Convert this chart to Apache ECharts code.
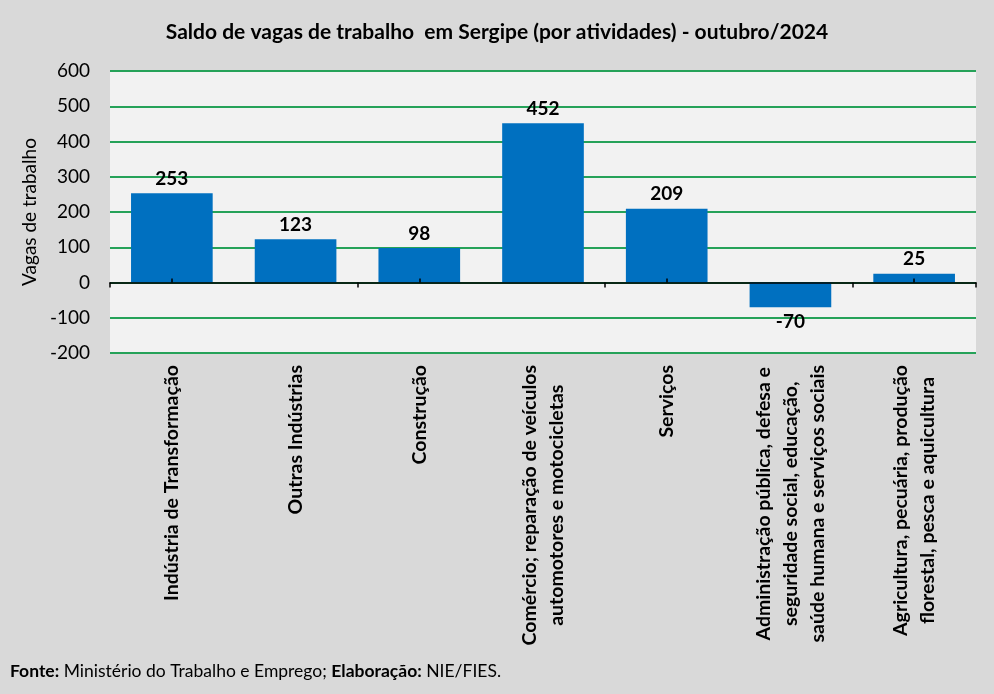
<!DOCTYPE html>
<html lang="pt-BR">
<head>
<meta charset="UTF-8">
<title>Saldo de vagas de trabalho em Sergipe</title>
<script src="https://cdn.jsdelivr.net/npm/echarts@6/dist/echarts.min.js"></script>
<style>
    * { margin: 0; padding: 0; box-sizing: border-box; }
    body { background: #d9d9d9; }
    #chart { width: 994px; height: 694px; }
</style>
</head>
<body>
<div id="chart"></div>
<script>
    // dados
    var categorias = [
        'Indústria de Transformação',
        'Outras Indústrias',
        'Construção',
        'Comércio; reparação de veículos\nautomotores e motocicletas',
        'Serviços',
        'Administração pública, defesa e\nseguridade social, educação,\nsaúde humana e serviços sociais',
        'Agricultura, pecuária, produção\nflorestal, pesca e aquicultura'
    ];
    var saldo = [253, 123, 98, 452, 209, -70, 25];
    var eixoY = { min: -200, max: 600, passo: 100 };

    var fonte = 'Lato, "Open Sans", sans-serif';

    var chart = echarts.init(document.getElementById('chart'));

    var option = {
        animation: false,
        backgroundColor: '#d9d9d9',
        textStyle: { fontFamily: fonte },
        title: {
            text: 'Saldo de vagas de trabalho  em Sergipe (por atividades) - outubro/2024',
            left: 'center',
            top: 17,
            textStyle: { fontFamily: fonte, fontSize: 21, fontWeight: 'bold', color: '#000' }
        },
        graphic: [{
            type: 'text',
            left: 10,
            top: 662,
            style: {
                text: '{b|Fonte:} Ministério do Trabalho e Emprego; {b|Elaboração:} NIE/FIES.',
                font: '17.5px ' + fonte,
                fill: '#000',
                rich: {
                    b: { fontWeight: 'bold', fontSize: 17.5, fontFamily: fonte }
                }
            }
        }],
        grid: {
            left: 110,
            right: 18,
            top: 71,
            bottom: 341,
            show: true,
            backgroundColor: '#f2f2f2',
            borderWidth: 0
        },
        xAxis: [{
            type: 'category',
            data: categorias,
            position: 'bottom',
            axisLine: { show: false, onZero: false },
            axisTick: { show: false },
            splitLine: { show: false },
            axisLabel: {
                rotate: 90,
                interval: 0,
                margin: 12,
                color: '#000',
                fontSize: 19.5,
                fontWeight: 'bold',
                fontFamily: fonte,
                formatter: function (v) {
                    return v.split('\n').map(function (l) { return '{c|' + l + '}'; }).join('\n');
                },
                rich: {
                    c: { align: 'center', fontSize: 19.5, fontWeight: 'bold', fontFamily: fonte, color: '#000', lineHeight: 27 }
                }
            }
        }, {
            // linha do zero com marcas nas divisas
            type: 'category',
            data: categorias,
            position: 'top',
            z: 5,
            axisLine: { show: true, onZero: true, onZeroAxisIndex: 0, lineStyle: { color: '#000', width: 1.5 } },
            axisTick: { show: true, inside: true, length: 5, lineStyle: { color: '#000', width: 1.5 } },
            axisLabel: { show: false },
            splitLine: { show: false }
        }, {
            // marcas no centro das categorias, para cima
            type: 'category',
            data: categorias,
            position: 'top',
            z: 5,
            axisLine: { show: false, onZero: true, onZeroAxisIndex: 1 },
            axisTick: { show: true, alignWithLabel: true, inside: false, length: 4, lineStyle: { color: '#000', width: 1.5 } },
            axisLabel: { show: false },
            splitLine: { show: false }
        }],
        yAxis: [{
            type: 'value',
            min: eixoY.min,
            max: eixoY.max,
            interval: eixoY.passo,
            name: 'Vagas de trabalho',
            nameLocation: 'middle',
            nameGap: 67,
            nameTextStyle: { fontFamily: fonte, fontSize: 19, color: '#000' },
            axisLine: { show: false },
            axisTick: { show: false },
            axisLabel: { color: '#000', fontSize: 19, fontFamily: fonte, margin: 20 },
            splitLine: { lineStyle: { color: '#26a259', width: 2 } }
        }, {
            type: 'value',
            min: eixoY.min,
            max: eixoY.max,
            interval: eixoY.passo,
            show: false,
            splitLine: { show: false }
        }],
        series: [{
            type: 'bar',
            xAxisIndex: 0,
            yAxisIndex: 0,
            barWidth: '66%',
            itemStyle: { color: '#0070c0' },
            data: saldo.map(function (v) {
                return { value: v, label: { position: v < 0 ? 'bottom' : 'top' } };
            }),
            label: {
                show: true,
                distance: 5,
                color: '#000',
                fontSize: 19,
                fontWeight: 'bold',
                fontFamily: fonte
            }
        }]
    };
    chart.setOption(option);
</script>
</body>
</html>
